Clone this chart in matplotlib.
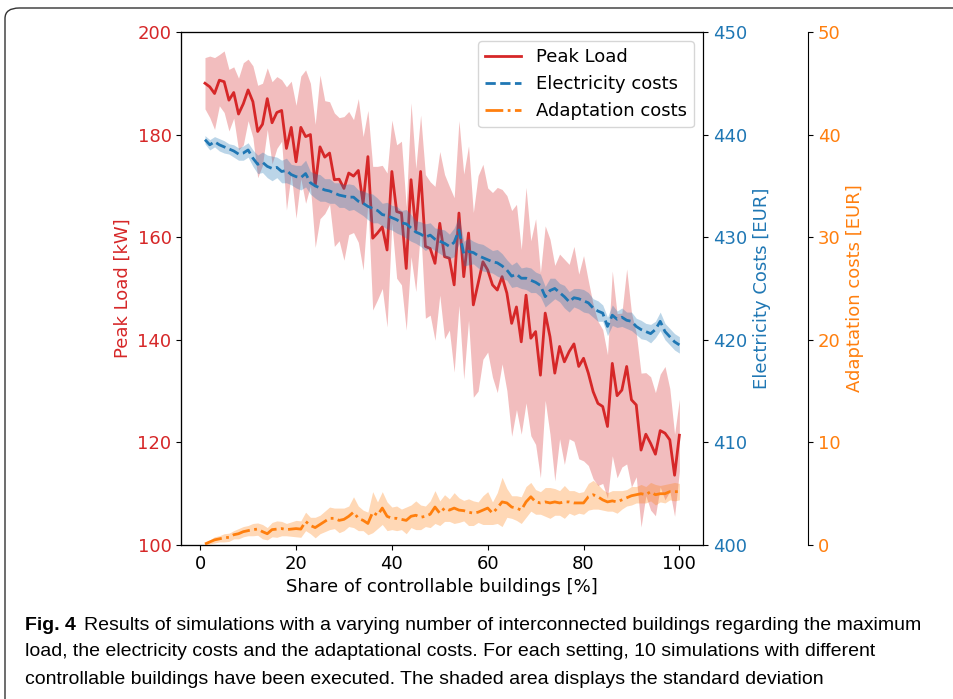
import matplotlib
matplotlib.use("Agg")
import matplotlib.pyplot as plt
from matplotlib.patches import FancyBboxPatch
import numpy as np

# share of controllable buildings [%]
share = list(range(1, 101))

# peak load [kW], mean and standard deviation
peak_load = [190, 189.3, 188, 190.6, 190.3, 186.7, 188.2, 184, 186, 188.7,
             186.4, 180.6, 182, 187, 182.3, 184.3, 184.7, 177.3, 181.4, 174.7,
             181.4, 179.6, 180, 170, 177.6, 175.6, 176.4, 171.2, 171.3, 169.5,
             172.5, 171.9, 173, 166.6, 175.7, 159.8, 160.8, 162, 157.5, 172.8,
             165, 164.7, 153.9, 171.2, 161.4, 172.8, 158.2, 157.8, 154.9, 162.7,
             156.2, 155.9, 150.7, 164.7, 152.3, 160.8, 146.8, 151, 155.2, 153.6,
             150.7, 149.7, 152.3, 149.1, 143.2, 146.4, 139.6, 148.7, 140.3, 141.6,
             133.1, 145.2, 140.6, 133.5, 138.7, 135.7, 137.7, 139.2, 134.8, 136.4,
             133.5, 129.9, 127.6, 127, 123.1, 135.4, 129.1, 130.2, 134.8, 128.3,
             127.3, 118.5, 121.6, 119.8, 117.7, 122.3, 121.8, 120.5, 113.6, 121.4]
peak_std = [5, 6, 7, 5, 6, 6, 5, 7, 8, 6,
            7, 9, 8, 6, 8, 7, 6, 12, 9, 11,
            10, 13, 10, 12, 14, 11, 10, 13, 12, 14,
            12, 11, 14, 13, 9, 14, 13, 12, 15, 10,
            13, 14, 12, 15, 12, 11, 14, 13, 15, 14,
            16, 14, 17, 18, 20, 17, 18, 21, 19, 16,
            18, 20, 17, 19, 22, 20, 18, 21, 19, 22,
            20, 17, 19, 21, 18, 20, 17, 19, 18, 20,
            18, 17, 16, 15, 14, 18, 16, 15, 19, 17,
            14, 15, 12, 13, 12, 11, 13, 10, 8, 7]

# electricity costs [EUR]
elec_cost = [439.5, 439.0, 439.3, 439.0, 438.8, 438.6, 438.4, 438.1, 438.2, 438.5,
             437.7, 437.1, 437.3, 436.9, 436.7, 436.8, 436.4, 436.5, 436.1, 435.9,
             435.8, 436.2, 435.3, 435.0, 434.8, 434.6, 434.5, 434.3, 434.1, 434.0,
             433.9, 433.9, 433.5, 433.3, 433.0, 432.8, 432.6, 432.2, 432.1, 431.9,
             431.7, 431.4, 431.3, 430.9, 430.5, 430.3, 430.0, 430.2, 429.8, 429.6,
             429.4, 429.1, 429.5, 430.7, 428.4, 428.6, 428.5, 428.2, 428.0, 427.8,
             427.6, 427.5, 427.2, 426.8, 426.2, 426.4, 426.0, 426.0, 425.8, 425.6,
             425.3, 424.2, 424.8, 425.0, 424.6, 424.2, 423.7, 424.1, 424.0, 423.8,
             423.6, 423.1, 422.8, 422.6, 421.3, 422.4, 422.0, 422.2, 421.9, 421.8,
             421.3, 421.0, 420.8, 420.6, 421.0, 421.8, 420.8, 420.3, 419.8, 419.5]
elec_std = [0.4, 0.5, 0.5, 0.6, 0.6, 0.5, 0.6, 0.6, 0.7, 0.7,
            0.8, 0.9, 1.0, 1.1, 1.2, 1.0, 1.1, 1.2, 1.0, 1.1,
            1.2, 1.3, 1.1, 1.2, 1.3, 1.1, 1.2, 1.0, 1.2, 1.1,
            1.3, 1.2, 1.1, 1.2, 1.3, 1.4, 1.2, 1.1, 1.3, 1.2,
            1.3, 1.2, 1.4, 1.3, 1.1, 1.2, 1.3, 1.2, 1.1, 1.2,
            1.3, 1.2, 1.4, 1.3, 1.2, 1.3, 1.1, 1.2, 1.3, 1.2,
            1.1, 1.3, 1.2, 1.0, 1.1, 1.2, 1.0, 1.1, 1.2, 1.0,
            1.1, 1.0, 1.2, 1.0, 0.9, 1.1, 1.0, 0.9, 1.0, 1.1,
            1.0, 0.9, 1.0, 0.8, 0.9, 1.0, 0.8, 0.9, 0.8, 0.9,
            0.8, 0.9, 0.8, 0.9, 0.8, 0.9, 0.8, 0.8, 0.8, 0.8]

# adaptation costs [EUR]
adapt_cost = [0.1, 0.3, 0.5, 0.6, 0.7, 0.75, 1.0, 1.1, 1.3, 1.4,
              1.5, 1.55, 1.3, 1.1, 1.5, 1.55, 1.6, 1.5, 1.55, 1.6,
              1.55, 2.3, 1.9, 1.7, 2.0, 2.3, 2.6, 2.6, 2.4, 2.5,
              2.8, 3.2, 2.6, 2.4, 2.1, 3.2, 2.9, 3.6, 2.8, 2.6,
              2.6, 2.5, 2.4, 2.8, 2.9, 2.7, 2.8, 3.0, 3.7, 3.1,
              3.6, 3.4, 3.6, 3.4, 3.35, 3.2, 3.1, 3.2, 3.4, 3.6,
              3.1, 3.6, 4.2, 4.1, 3.7, 3.6, 3.4, 4.2, 4.7, 4.2,
              4.1, 4.2, 4.1, 4.2, 4.1, 4.2, 4.2, 4.1, 4.1, 4.1,
              4.7, 4.9, 4.7, 4.4, 4.2, 4.3, 4.2, 4.4, 4.6, 4.8,
              4.9, 5.0, 4.9, 5.2, 4.9, 5.0, 5.0, 5.2, 5.2, 5.2]
adapt_std = [0.1, 0.2, 0.3, 0.3, 0.4, 0.4, 0.4, 0.5, 0.5, 0.5,
             0.6, 0.6, 0.7, 0.6, 0.7, 0.8, 0.7, 0.6, 0.7, 0.8,
             0.8, 0.9, 0.8, 1.0, 0.9, 1.0, 1.1, 1.0, 1.2, 1.1,
             1.0, 1.5, 1.2, 1.0, 1.1, 2.0, 1.3, 1.6, 1.4, 1.1,
             1.2, 1.0, 1.3, 1.1, 1.4, 1.2, 1.0, 1.3, 1.6, 1.2,
             1.3, 1.1, 1.5, 1.2, 1.0, 1.3, 1.2, 1.0, 1.4, 1.6,
             1.1, 1.5, 2.4, 1.4, 1.1, 1.2, 1.3, 1.5, 1.4, 1.2,
             1.1, 1.4, 1.5, 1.3, 1.2, 1.6, 1.1, 1.2, 1.0, 1.1,
             1.3, 1.4, 1.2, 1.0, 0.9, 1.0, 1.1, 0.9, 0.8, 0.9,
             0.8, 0.9, 0.8, 0.9, 1.0, 0.8, 0.9, 0.8, 0.9, 0.8]

caption = ["Results of simulations with a varying number of interconnected buildings regarding the maximum",
           "load, the electricity costs and the adaptational costs. For each setting, 10 simulations with different",
           "controllable buildings have been executed. The shaded area displays the standard deviation"]

red = "#d62728"
blue = "#1f77b4"
orange = "#ff7f0e"
cap_font = ["Liberation Sans", "DejaVu Sans"]

plt.rcParams["font.size"] = 13

fig = plt.figure(figsize=(9.54, 6.99), dpi=100)
ax = fig.add_axes([0.190, 0.2203, 0.547, 0.734])
par1 = ax.twinx()
par2 = ax.twinx()
par2.spines["right"].set_position(("axes", 1.201))

x = np.array(share)

#peak load
pl = np.array(peak_load)
ps = np.array(peak_std)
ax.fill_between(x, pl - ps, pl + ps, color=red, alpha=0.3, lw=0)
l1, = ax.plot(x, pl, "-", color=red, lw=2, label="Peak Load")

#electricity costs
ec = np.array(elec_cost)
es = np.array(elec_std)
par1.fill_between(x, ec - es, ec + es, color=blue, alpha=0.3, lw=0)
l2, = par1.plot(x, ec, "--", color=blue, lw=2, label="Electricity costs")

#adaptation costs
ac = np.array(adapt_cost)
ast = np.array(adapt_std)
par2.fill_between(x, ac - ast, ac + ast, color=orange, alpha=0.3, lw=0)
l3, = par2.plot(x, ac, "-.", color=orange, lw=2, label="Adaptation costs")

#axes
ax.set_ylim(100, 200)
par1.set_ylim(400, 450)
par2.set_ylim(0, 50)
ax.set_xticks([0, 20, 40, 60, 80, 100])
ax.set_yticks([100, 120, 140, 160, 180, 200])
par1.set_yticks([400, 410, 420, 430, 440, 450])
par2.set_yticks([0, 10, 20, 30, 40, 50])

ax.set_xlabel("Share of controllable buildings [%]")
ax.set_ylabel("Peak Load [kW]", color=red)
par1.set_ylabel("Electricity Costs [EUR]", color=blue)
par2.set_ylabel("Adaptation costs [EUR]", color=orange)
ax.tick_params(axis="y", labelcolor=red)
par1.tick_params(axis="y", labelcolor=blue)
par2.tick_params(axis="y", labelcolor=orange)

par2.legend([l1, l2, l3], [l1.get_label(), l2.get_label(), l3.get_label()],
            loc="upper right")

#caption
fig.text(25 / 954, 1 - 626 / 699, "Fig. 4", fontsize=14, fontweight="bold",
         family=cap_font, va="center")
fig.text(84 / 954, 1 - 626 / 699, caption[0], fontsize=14,
         family=cap_font, va="center")
fig.text(25 / 954, 1 - 652 / 699, caption[1], fontsize=14,
         family=cap_font, va="center")
fig.text(25 / 954, 1 - 679 / 699, caption[2], fontsize=14,
         family=cap_font, va="center")

#frame around the figure
frame = FancyBboxPatch((5 / 954, -0.1), 1.2, 1 - 8 / 699 + 0.1,
                       boxstyle="round,pad=0,rounding_size=0.015",
                       transform=fig.transFigure, fill=False,
                       edgecolor="#333333", lw=1.0)
fig.patches.append(frame)

fig.savefig("out.png", dpi=100)
